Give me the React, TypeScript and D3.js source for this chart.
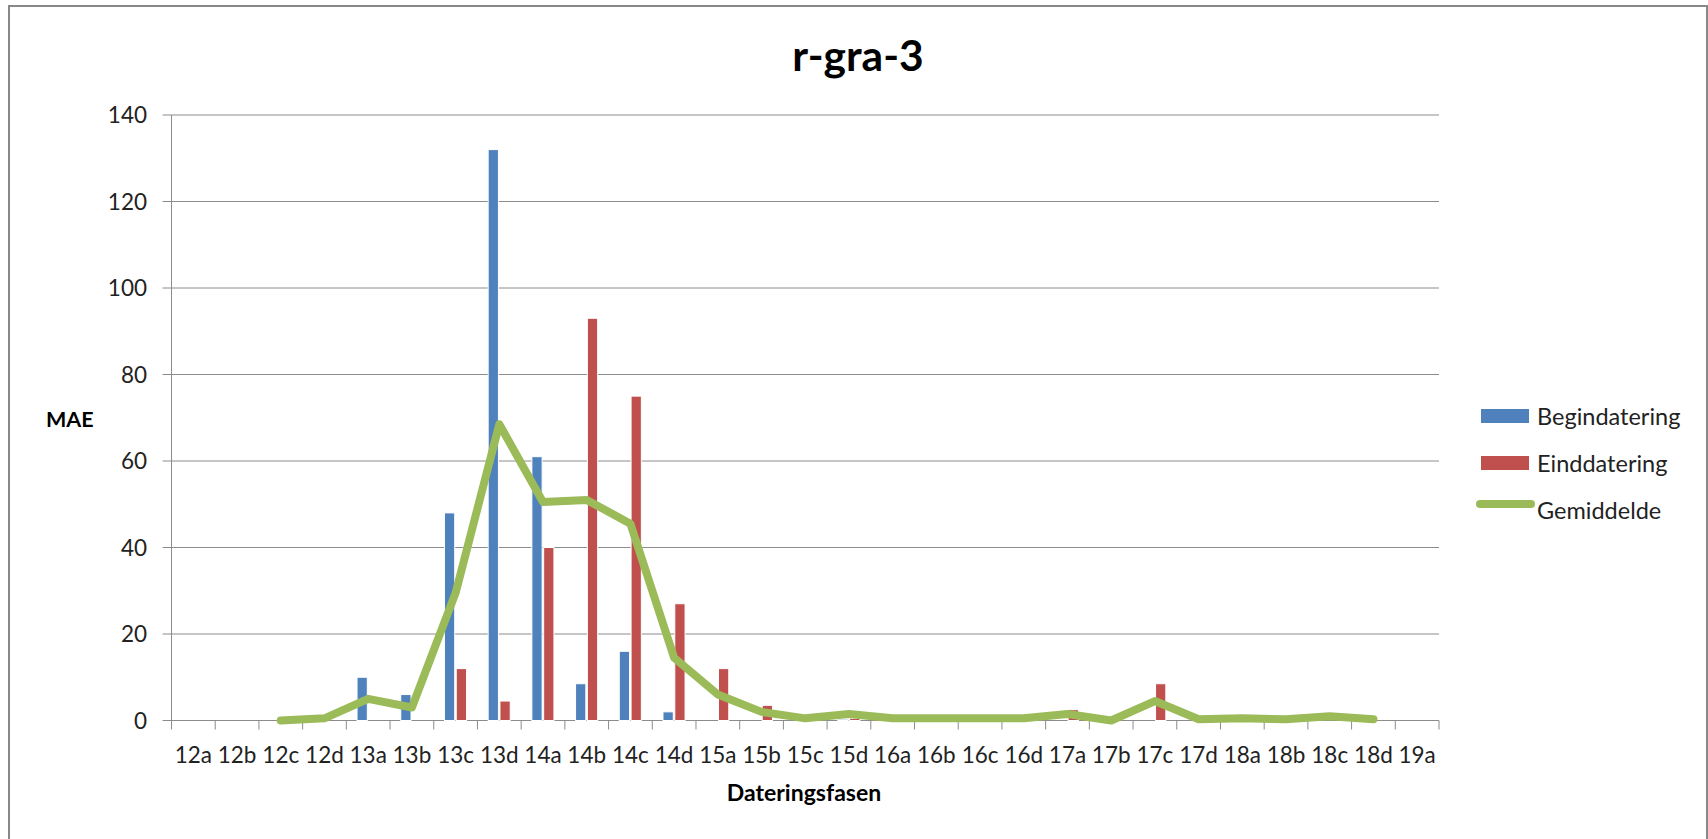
import * as d3 from "d3";

const categories = [
  "12a", "12b", "12c", "12d",
  "13a", "13b", "13c", "13d",
  "14a", "14b", "14c", "14d",
  "15a", "15b", "15c", "15d",
  "16a", "16b", "16c", "16d",
  "17a", "17b", "17c", "17d",
  "18a", "18b", "18c", "18d",
  "19a",
];

// Begindatering (blue bars)
const beginValues = [
  0, 0, 0, 0,
  10, 6, 48, 132,
  61, 8.5, 16, 2,
  0, 0, 0, 0.3,
  0, 0, 0, 0,
  0, 0, 0, 0,
  0, 0, 0, 0,
  0,
];

// Einddatering (red bars)
const endValues = [
  0, 0, 0, 0,
  0, 0, 12, 4.5,
  40, 93, 75, 27,
  12, 3.5, 0, 0.5,
  0, 0, 0, 0,
  2.5, 0, 8.5, 0,
  0, 0, 0, 0,
  0,
];

// Gemiddelde (green line), 12c .. 18d
const avgCategories = categories.slice(2, 28);
const avgValues = [
  0, 0.5,
  5, 3, 29.5, 68.5,
  50.5, 51, 45.5, 14.5,
  6, 2, 0.5, 1.5,
  0.5, 0.5, 0.5, 0.5,
  1.5, 0, 4.5, 0.3,
  0.5, 0.3, 1, 0.3,
];

const yTicks = [0, 20, 40, 60, 80, 100, 120, 140];

const W = 1708;
const H = 839;
const FONT = "Lato, 'Liberation Sans', sans-serif";
const BLUE = "#4F81BD";
const RED = "#C0504D";
const GREEN = "#9BBB59";
const GRID = "#8c8c8c";

const plot = { left: 171.5, right: 1439, top: 115, bottom: 720.5 };

export default function App() {
  const x = d3
    .scaleBand<string>()
    .domain(categories)
    .range([plot.left, plot.right])
    .padding(0);
  const y = d3.scaleLinear().domain([0, 140]).range([plot.bottom, plot.top]);
  const bw = x.bandwidth();

  const line = d3
    .line<number>()
    .x((_, i) => (x(avgCategories[i]) as number) + bw / 2)
    .y((d) => y(d));

  const legendItems = [
    { label: "Begindatering", color: BLUE, kind: "bar" },
    { label: "Einddatering", color: RED, kind: "bar" },
    { label: "Gemiddelde", color: GREEN, kind: "line" },
  ];

  return (
    <svg
      width={W}
      height={H}
      style={{ position: "absolute", left: 0, top: 0, display: "block" }}
      fontFamily={FONT}
    >
      <rect x={0} y={0} width={W} height={H} fill="#fff" />
      {/* outer frame */}
      <path d={`M9,${H} V6 H1707 V${H}`} fill="none" stroke="#888" strokeWidth={2} />

      <text x={858} y={71} textAnchor="middle" fontSize={42.5} fontWeight="bold" fill="#000">
        r-gra-3
      </text>

      {/* grid */}
      {yTicks.map((t) => (
        <g key={t}>
          <line x1={plot.left - 9} x2={plot.right} y1={y(t)} y2={y(t)} stroke={GRID} strokeWidth={1} />
          <text x={147} y={y(t) + 8} textAnchor="end" fontSize={22.5} fill="#222">
            {t}
          </text>
        </g>
      ))}
      <line x1={plot.left} x2={plot.left} y1={plot.top} y2={plot.bottom} stroke={GRID} strokeWidth={1} />

      {/* x ticks */}
      {categories.map((c) => (
        <line
          key={"t" + c}
          x1={x(c) as number}
          x2={x(c) as number}
          y1={plot.bottom}
          y2={plot.bottom + 9}
          stroke={GRID}
          strokeWidth={1}
        />
      ))}
      <line x1={plot.right} x2={plot.right} y1={plot.bottom} y2={plot.bottom + 9} stroke={GRID} />

      {categories.map((c) => (
        <text
          key={"l" + c}
          x={(x(c) as number) + bw / 2}
          y={763}
          textAnchor="middle"
          fontSize={22.5}
          fill="#222"
        >
          {c}
        </text>
      ))}

      {/* bars */}
      {categories.map((c, i) => (
        <g key={"b" + c}>
          {beginValues[i] > 0 && (
            <rect
              x={(x(c) as number) + bw * 0.245}
              y={y(beginValues[i])}
              width={bw * 0.235}
              height={plot.bottom - y(beginValues[i])}
              fill={BLUE}
              stroke="#fff"
              strokeWidth={1}
            />
          )}
          {endValues[i] > 0 && (
            <rect
              x={(x(c) as number) + bw * 0.515}
              y={y(endValues[i])}
              width={bw * 0.235}
              height={plot.bottom - y(endValues[i])}
              fill={RED}
              stroke="#fff"
              strokeWidth={1}
            />
          )}
        </g>
      ))}

      <path
        d={line(avgValues) ?? ""}
        fill="none"
        stroke={GREEN}
        strokeWidth={8}
        strokeLinejoin="round"
        strokeLinecap="round"
      />

      {/* axis titles */}
      <text x={804} y={801} textAnchor="middle" fontSize={23} fontWeight="bold" fill="#000">
        Dateringsfasen
      </text>
      <text x={46} y={427} fontSize={21.5} fontWeight="bold" fill="#000">
        MAE
      </text>

      {/* legend */}
      {legendItems.map((d, i) => {
        const cy = 416 + i * 47;
        return (
          <g key={d.label}>
            {d.kind === "bar" ? (
              <rect x={1481} y={cy - 7} width={48} height={14} fill={d.color} />
            ) : (
              <line
                x1={1480}
                x2={1531}
                y1={cy - 6}
                y2={cy - 6}
                stroke={d.color}
                strokeWidth={8}
                strokeLinecap="round"
              />
            )}
            <text x={1537} y={cy + 9} fontSize={23.5} fill="#222">
              {d.label}
            </text>
          </g>
        );
      })}
    </svg>
  );
}
